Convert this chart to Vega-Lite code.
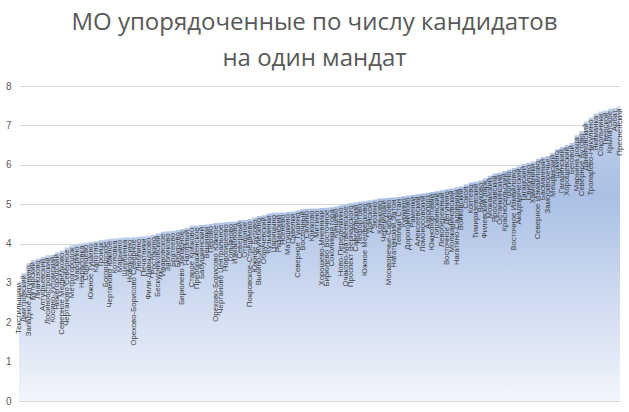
{
  "$schema": "https://vega.github.io/schema/vega-lite/v6.json",
  "width": 601,
  "height": 315,
  "autosize": {"type": "none"},
  "padding": {"left": 19, "top": 86, "right": 9, "bottom": 11},
  "background": "white",
  "title": {
    "text": ["МО упорядоченные по числу кандидатов", "на один мандат"],
    "font": "Open Sans",
    "fontSize": 24,
    "fontWeight": "normal",
    "color": "#595959",
    "lineHeight": 36,
    "anchor": "middle",
    "offset": 10,
    "dx": -5
  },
  "config": {
    "view": {"stroke": null},
    "axis": {"labelFont": "Liberation Sans", "labelColor": "#595959", "labelFontSize": 10}
  },
  "data": {
    "values": [
      {"name": "Текстильщики", "v": 3.05},
      {"name": "Дмитровский", "v": 3.25},
      {"name": "Западное Дегунино", "v": 3.5},
      {"name": "Бутырский", "v": 3.58},
      {"name": "Лианозово", "v": 3.62},
      {"name": "Алтуфьевский", "v": 3.66},
      {"name": "Лосиноостровский", "v": 3.7},
      {"name": "Косино-Ухтомский", "v": 3.72},
      {"name": "Нижегородский", "v": 3.78},
      {"name": "Северное Медведково", "v": 3.82},
      {"name": "Чертаново Северное", "v": 3.9},
      {"name": "Метрогородок", "v": 3.95},
      {"name": "Марфино", "v": 3.98},
      {"name": "Некрасовка", "v": 4.0},
      {"name": "Солнцево", "v": 4.02},
      {"name": "Южное Тушино", "v": 4.04},
      {"name": "Капотня", "v": 4.06},
      {"name": "Троицк", "v": 4.08},
      {"name": "Богородское", "v": 4.1},
      {"name": "Чертаново Южное", "v": 4.12},
      {"name": "Котловка", "v": 4.13},
      {"name": "Марьино", "v": 4.14},
      {"name": "Щербинка", "v": 4.15},
      {"name": "Новокосино", "v": 4.15},
      {"name": "Орехово-Борисово Северное", "v": 4.16},
      {"name": "Люблино", "v": 4.17},
      {"name": "Печатники", "v": 4.18},
      {"name": "Фили-Давыдково", "v": 4.2},
      {"name": "Ростокино", "v": 4.22},
      {"name": "Бескудниковский", "v": 4.26},
      {"name": "Ивановское", "v": 4.3},
      {"name": "Зябликово", "v": 4.31},
      {"name": "Братеево", "v": 4.32},
      {"name": "Бибирево", "v": 4.34},
      {"name": "Бирюлево Западное", "v": 4.37},
      {"name": "Нагорный", "v": 4.4},
      {"name": "Старое Крюково", "v": 4.45},
      {"name": "Преображенское", "v": 4.46},
      {"name": "Бабушкинский", "v": 4.47},
      {"name": "Вешняки", "v": 4.48},
      {"name": "Перово", "v": 4.5},
      {"name": "Орехово-Борисово Южное", "v": 4.52},
      {"name": "Чертаново Центральное", "v": 4.53},
      {"name": "Новогиреево", "v": 4.54},
      {"name": "Гольяново", "v": 4.55},
      {"name": "Измайлово", "v": 4.56},
      {"name": "Северный", "v": 4.6},
      {"name": "Отрадное", "v": 4.6},
      {"name": "Покровское-Стрешнево", "v": 4.62},
      {"name": "Южное Бутово", "v": 4.66},
      {"name": "Выхино-Жулебино", "v": 4.7},
      {"name": "Обручевский", "v": 4.72},
      {"name": "Кузьминки", "v": 4.76},
      {"name": "Царицыно", "v": 4.78},
      {"name": "Рязанский", "v": 4.78},
      {"name": "Ясенево", "v": 4.79},
      {"name": "Матушкино", "v": 4.8},
      {"name": "Савелки", "v": 4.81},
      {"name": "Северное Тушино", "v": 4.84},
      {"name": "Восточный", "v": 4.87},
      {"name": "Силино", "v": 4.88},
      {"name": "Крюково", "v": 4.89},
      {"name": "Митино", "v": 4.89},
      {"name": "Хорошево-Мневники", "v": 4.9},
      {"name": "Бирюлево Восточное", "v": 4.91},
      {"name": "Соколиная гора", "v": 4.92},
      {"name": "Кунцево", "v": 4.94},
      {"name": "Ново-Переделкино", "v": 4.97},
      {"name": "Очаково-Матвеевское", "v": 5.0},
      {"name": "Проспект Вернадского", "v": 5.02},
      {"name": "Савеловский", "v": 5.04},
      {"name": "Лефортово", "v": 5.06},
      {"name": "Южное Медведково", "v": 5.07},
      {"name": "Донской", "v": 5.09},
      {"name": "Зюзино", "v": 5.12},
      {"name": "Коньково", "v": 5.14},
      {"name": "Черемушки", "v": 5.15},
      {"name": "Москворечье-Сабурово", "v": 5.16},
      {"name": "Нагатинский Затон", "v": 5.17},
      {"name": "Теплый Стан", "v": 5.18},
      {"name": "Куркино", "v": 5.2},
      {"name": "Дорогомилово", "v": 5.22},
      {"name": "Раменки", "v": 5.24},
      {"name": "Алексеевский", "v": 5.25},
      {"name": "Ломоносовский", "v": 5.27},
      {"name": "Аэропорт", "v": 5.29},
      {"name": "Южнопортовый", "v": 5.31},
      {"name": "Головинский", "v": 5.33},
      {"name": "Левобережный", "v": 5.35},
      {"name": "Восточное Дегунино", "v": 5.38},
      {"name": "Молжаниновский", "v": 5.4},
      {"name": "Нагатино-Садовники", "v": 5.42},
      {"name": "Войковский", "v": 5.45},
      {"name": "Сокол", "v": 5.5},
      {"name": "Коптево", "v": 5.55},
      {"name": "Тимирязевский", "v": 5.57},
      {"name": "Внуково", "v": 5.6},
      {"name": "Филевский парк", "v": 5.65},
      {"name": "Можайский", "v": 5.72},
      {"name": "Ярославский", "v": 5.78},
      {"name": "Останкинский", "v": 5.8},
      {"name": "Красносельский", "v": 5.84},
      {"name": "Строгино", "v": 5.88},
      {"name": "Восточное Измайлово", "v": 5.92},
      {"name": "Академический", "v": 5.96},
      {"name": "Таганский", "v": 6.02},
      {"name": "Свиблово", "v": 6.05},
      {"name": "Хамовники", "v": 6.08},
      {"name": "Северное Измайлово", "v": 6.15},
      {"name": "Басманный", "v": 6.2},
      {"name": "Замоскворечье", "v": 6.22},
      {"name": "Мещанский", "v": 6.3},
      {"name": "Щукино", "v": 6.4},
      {"name": "Гагаринский", "v": 6.45},
      {"name": "Хорошевский", "v": 6.5},
      {"name": "Беговой", "v": 6.55},
      {"name": "Марьина роща", "v": 6.75},
      {"name": "Северное Бутово", "v": 6.85},
      {"name": "Даниловский", "v": 7.1},
      {"name": "Тропарево-Никулино", "v": 7.2},
      {"name": "Якиманка", "v": 7.3},
      {"name": "Сокольники", "v": 7.35},
      {"name": "Тверской", "v": 7.38},
      {"name": "Крылатское", "v": 7.42},
      {"name": "Арбат", "v": 7.45},
      {"name": "Пресненский", "v": 7.48}
    ]
  },
  "encoding": {
    "x": {
      "field": "name",
      "type": "nominal",
      "sort": null,
      "scale": {"type": "point", "padding": 0},
      "axis": {"labels": false, "ticks": false, "title": null, "domain": true, "domainColor": "#d9d9d9", "grid": false}
    },
    "y": {
      "field": "v",
      "type": "quantitative",
      "scale": {"domain": [0, 8], "nice": false},
      "axis": {"values": [0, 1, 2, 3, 4, 5, 6, 7, 8], "title": null, "domain": false, "ticks": false, "gridColor": "#d9d9d9", "labelPadding": 8}
    }
  },
  "layer": [
    {
      "mark": {
        "type": "area",
        "interpolate": "step",
        "fill": {
          "gradient": "linear",
          "x1": 0, "y1": 0, "x2": 0, "y2": 1,
          "stops": [
            {"offset": 0, "color": "#c2d1ec"},
            {"offset": 0.3, "color": "#abc0e5"},
            {"offset": 1, "color": "#f2f5fb"}
          ]
        }
      }
    },
    {
      "mark": {
        "type": "text",
        "angle": 270,
        "align": "right",
        "baseline": "middle",
        "dx": -2,
        "font": "Liberation Sans",
        "fontSize": 7.8,
        "color": "#404040"
      },
      "encoding": {"text": {"field": "name"}}
    }
  ]
}
